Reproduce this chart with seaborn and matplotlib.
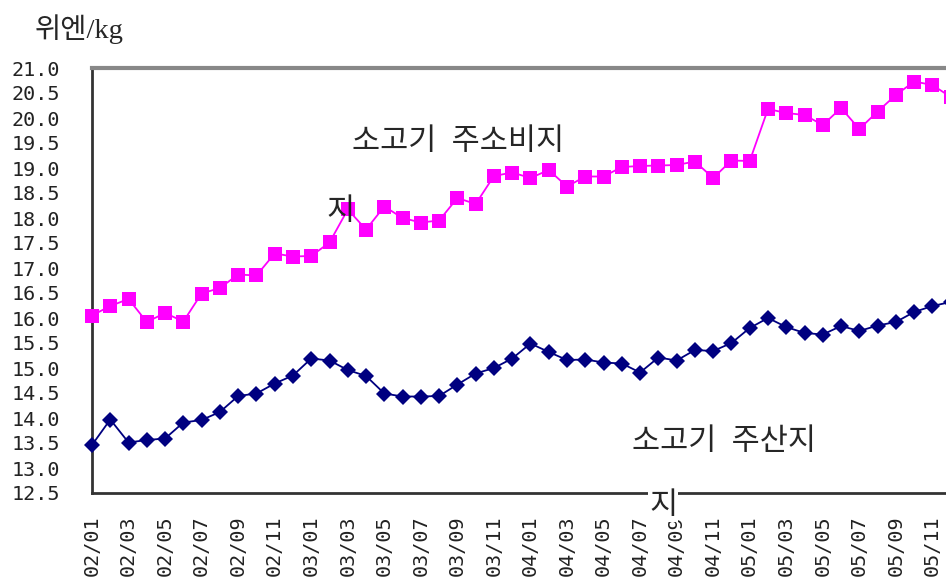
import numpy as np
import pandas as pd
import seaborn as sns
import matplotlib.pyplot as plt

# -----------------------------
# Data, monthly 2002/01 - 2005/12
# -----------------------------
months = [f"{y:02d}/{m:02d}" for y in (2, 3, 4, 5) for m in range(1, 13)]

# 소고기 주소비지 (consumer region), magenta squares
consumer = [16.05, 16.24, 16.38, 15.92, 16.10, 15.93, 16.49, 16.60, 16.87, 16.85, 17.29, 17.23,
            17.24, 17.51, 18.17, 17.77, 18.23, 18.00, 17.91, 17.95, 18.40, 18.28, 18.84, 18.91,
            18.80, 18.96, 18.63, 18.83, 18.83, 19.02, 19.04, 19.05, 19.06, 19.13, 18.80, 19.15,
            19.14, 20.18, 20.10, 20.06, 19.86, 20.20, 19.78, 20.13, 20.46, 20.73, 20.66, 20.42]

# 소고기 주산지 (producer region), navy diamonds
producer = [13.46, 13.97, 13.51, 13.56, 13.59, 13.91, 13.96, 14.12, 14.44, 14.49, 14.69, 14.85,
            15.19, 15.15, 14.96, 14.84, 14.49, 14.43, 14.43, 14.44, 14.67, 14.89, 15.00, 15.19,
            15.49, 15.32, 15.16, 15.17, 15.11, 15.09, 14.91, 15.21, 15.15, 15.36, 15.34, 15.50,
            15.80, 16.00, 15.82, 15.70, 15.67, 15.84, 15.74, 15.85, 15.92, 16.12, 16.24, 16.32]

df = pd.DataFrame({"idx": np.arange(len(months)), "month": months,
                   "consumer": consumer, "producer": producer})

# -----------------------------
# Visualization
# -----------------------------
sns.set_style("white")
kr = ["Liberation Serif", "Noto Sans CJK KR"]
mono = "DejaVu Sans Mono"

fig = plt.figure(figsize=(9.46, 5.83), dpi=100)
W, H = 946, 583
step = 18.27
ax = fig.add_axes([92 / W, 90 / H, 48 * step / W, 425 / H])

sns.lineplot(data=df, x="idx", y="consumer", ax=ax, color="#ff00ff", marker="s",
             markersize=9.5, markeredgewidth=0, linewidth=1.3, clip_on=False, zorder=3)
sns.lineplot(data=df, x="idx", y="producer", ax=ax, color="#000080", marker="D",
             markersize=8.5, markeredgewidth=0, linewidth=1.3, clip_on=False, zorder=3)

ax.set_xlim(0, 48)
ax.set_ylim(12.5, 21.0)
ax.set_xlabel("")
ax.set_ylabel("")

yt = np.arange(12.5, 21.01, 0.5)
ax.set_yticks(yt)
ax.set_yticklabels([f"{v:.1f}" for v in yt], fontfamily=mono, fontsize=14.5, color="#222222")
ax.set_xticks(df["idx"][::2])
ax.set_xticklabels(df["month"][::2], rotation=90, fontfamily=mono,
                   fontsize=14.5, color="#222222")
ax.set_xticks(df["idx"], minor=True)

ax.tick_params(axis="y", direction="in", length=7, width=1.5, color="#333333", pad=23)
ax.tick_params(axis="x", which="both", direction="in", length=7, width=1.5,
               color="#333333", pad=16)

for s in ("left", "bottom"):
    ax.spines[s].set_color("#333333")
    ax.spines[s].set_linewidth(2)
ax.spines["top"].set_color("#888888")
ax.spines["top"].set_linewidth(3)
ax.spines["right"].set_visible(False)

# unit label
fig.text(35 / W, 1 - 29 / H, "위엔/kg", family=kr, fontsize=20.5, va="center", ha="left")

# series labels (with the wrapped last character as in the original)
fig.text(352 / W, 1 - 142 / H, "소고기  주소비지", family=kr, fontsize=22,
         va="center", ha="left",
         bbox=dict(facecolor="white", edgecolor="none", pad=3))
fig.text(341 / W, 1 - 213 / H, "지", family=kr, fontsize=22, va="center", ha="center")
fig.text(632 / W, 1 - 442 / H, "소고기  주산지", family=kr, fontsize=22,
         va="center", ha="left",
         bbox=dict(facecolor="white", edgecolor="none", pad=3))
fig.text(663 / W, 1 - 507 / H, "지", family=kr, fontsize=22, va="center", ha="center",
         bbox=dict(facecolor="white", edgecolor="none", pad=0.5))

plt.savefig("out.png", dpi=100)
plt.close()
